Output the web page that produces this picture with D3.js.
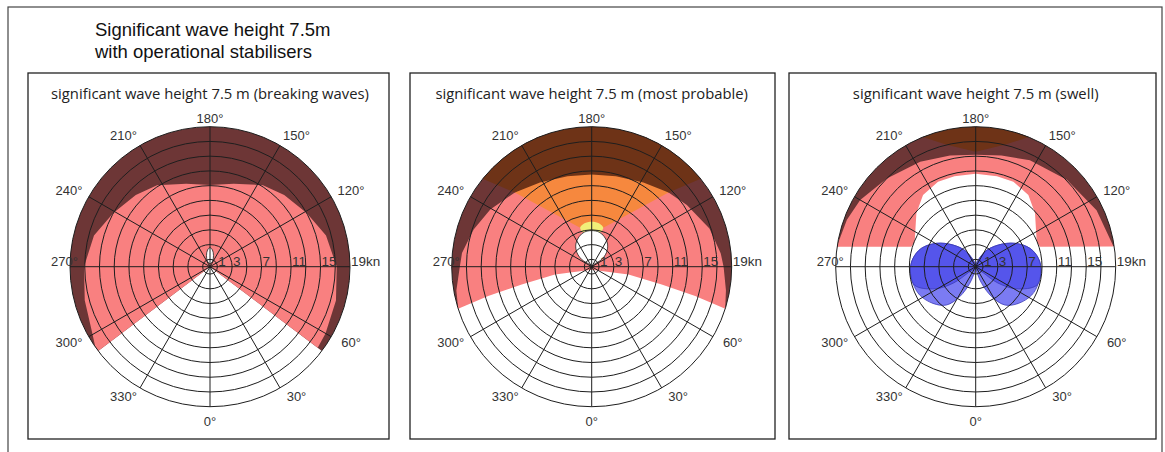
<!DOCTYPE html>
<html><head><meta charset="utf-8">
<script src="https://cdn.jsdelivr.net/npm/d3@7"></script>
<style>body{margin:0;background:#fff;} svg{display:block;}</style>
</head><body>
<svg id="chart" width="1165" height="452"></svg>
<script>
// ---------------- DATA ----------------
const heading = ["Significant wave height 7.5m", "with operational stabilisers"];
const panelTitles = [
  "significant wave height 7.5 m (breaking waves)",
  "significant wave height 7.5 m (most probable)",
  "significant wave height 7.5 m (swell)"
];
const speedRings = [1, 3, 5, 7, 9, 11, 13, 15, 17, 19];          // kn
const speedLabels = [[1, "1"], [3, "3"], [7, "7"], [11, "11"], [15, "15"], [19, "19kn"]];
const headings = [0, 30, 60, 90, 120, 150, 180, 210, 240, 270, 300, 330]; // degrees
const headingLabels = [0, 30, 60, 120, 150, 180, 210, 240, 270, 300, 330];
const maxSpeed = 19;

// Regions: [heading deg, speed kn]
// Panel 1 (breaking waves)
const p1Maroon = [[307,0],[307,22],[270,22],[225,22],[180,22],[135,22],[90,22],[53,22],[53,0]];
const p1Pink = [[307,0],[307,19.3],[300,18.4],[285,17.6],[270,17.1],[255,16.3],[241,15.0],[226,14.0],
  [213,13.2],[196,11.7],[180,11.1],[164,11.7],[147,13.2],[134,14.0],[119,15.0],[105,16.3],[90,17.2],
  [75,17.7],[60,18.1],[53,18.3],[53,0]];
const p1Lobe = [[180,2.58],[171.6,2.29],[162.4,1.57],[155.2,0.8],[180,0.41],[204.8,0.8],[197.6,1.57],[188.4,2.29]];

// Panel 2 (most probable)
const p2Maroon = [[287.5,19.0],[280,17.8],[265,16.8],[250,15.6],[235,14.6],[210,14],[180,14],[150,14],
  [125,14.6],[110,15.6],[95,16.8],[80,17.8],[72.5,19.0],[72.5,21],[90,22],[135,22],[180,22],[225,22],[270,22],[287.5,21]];
const p2Pink = [[287.5,19.0],[280,18.65],[270,17.9],[264,17.7],[252.5,16.8],[240.6,15.8],[226,14.5],[180,12.5],
  [134,14.5],[123,15.4],[108,16.8],[96,17.6],[90,17.9],[80,18.5],[72.5,19.0],
  [74.2,14.6],[75.8,9.8],[78.2,5.1],[0,0.4],[281.8,5.1],[284.2,9.8],[285.8,14.6]];
const p2Orange = [[196.6,5.5],[226,14.5],[205,14.5],[180,14],[155,14.5],[134,14.5],[163.4,5.5],[170,5.95],[180,6.1],[190,5.95]];
const p2Choc = [[231.5,19.5],[226,14.5],[211.6,13.4],[195,12.7],[180,12.5],[165,12.7],[148.4,13.4],[134,14.5],
  [128.5,19.5],[135,22],[157.5,22],[180,22],[202.5,22],[225,22]];
const p2Yellow = [[196.6,5.5],[190,5.95],[180,6.1],[170,5.95],[163.4,5.5],[168,4.6],[180,4.5],[192,4.6]];
const p2Lobe = [[180,4.9],[168,4.8],[158,4.45],[145,3.75],[134,2.8],[126,1.7],[135,0.45],[180,0.05],
  [225,0.45],[234,1.7],[226,2.8],[215,3.75],[202,4.45],[192,4.8]];

// Panel 3 (swell)
const p3Maroon = [[261.8,19.06],[258,17],[250,17.6],[240,17.4],[225,16.4],[208,15.5],[180,14.6],[153,15.6],
  [134,16.5],[115,17.5],[100,18.0],[98.3,19.06],[98.3,21],[135,22],[180,22],[225,22],[261.8,21]];
const p3Pink = [[261.8,19.06],[250,18.6],[240,18.1],[225.2,17.0],[207.9,16.1],[193,15.5],[180,15.2],[167,15.5],
  [153,16.2],[133.7,17.1],[115,18.1],[98.3,18.9],[107.2,9.14],[112.3,8.95],[132,10.83],[143.7,12.07],
  [156.1,12.62],[166.8,12.6],[180,12.6],[193.2,12.6],[203.9,12.62],[216.3,12.07],[228,10.83],[247.7,8.95],[252.8,9.14]];
const p3Choc = [[203.2,19.3],[193.4,17],[187,16.2],[180,15.6],[173,16.2],[166.6,17],[156.8,19.3],[160,22],[180,22],[200,22]];
const p3BlueR = [[90,0],[148.1,2.4],[133.7,4.26],[120.7,6.21],[108.6,7.79],[97.6,8.58],[87.1,8.88],[75.1,8.8],
  [63.1,8.52],[49.3,7.64],[37.4,6.55],[28.1,4.61],[19.7,2.4],[11.6,0.69]];
const p3BlueL = [[270,0],[348.4,0.69],[340.3,2.4],[331.9,4.61],[322.6,6.55],[310.7,7.64],[296.9,8.52],[284.9,8.8],
  [272.9,8.88],[262.4,8.58],[251.4,7.79],[239.3,6.21],[226.3,4.26],[211.9,2.4]];
const p3BlueRDark = [[90,0],[148.1,2.4],[133.7,4.26],[120.7,6.21],[108.6,7.79],[97.6,8.58],[87.1,8.88],
  [73.2,8.67],[61.4,6.26],[53.7,3.72],[51.3,1.28]];
const p3BlueLDark = [[270,0],[308.7,1.28],[306.3,3.72],[298.6,6.26],[286.8,8.67],[272.9,8.88],[262.4,8.58],
  [251.4,7.79],[239.3,6.21],[226.3,4.26],[211.9,2.4]];

// ---------------- STYLE / LAYOUT ----------------
const C = {maroon:"#6d3636", choc:"#6e3317", pink:"#f98080", orange:"#f6883e", yellow:"#f1ef78",
           blueL:"#7b7bf3", blueD:"#4f4fe9", grid:"#1e1e1e", text:"#333"};
const R = 140, CY = 266.7;
const panels = [
  {cx:210,   x0:28,  x1:389,  title:panelTitles[0], layers:[
     {d:p1Maroon, fill:C.maroon}, {d:p1Pink, fill:C.pink},
     {d:p1Lobe, fill:"#fff", stroke:C.grid, smooth:true}]},
  {cx:591.7, x0:410, x1:775,  title:panelTitles[1], layers:[
     {d:p2Maroon, fill:C.maroon}, {d:p2Pink, fill:C.pink}, {d:p2Orange, fill:C.orange},
     {d:p2Choc, fill:C.choc}, {d:p2Yellow, fill:C.yellow, smooth:true},
     {d:p2Lobe, fill:"#fff", stroke:C.grid, smooth:true}]},
  {cx:975.7, x0:789, x1:1156, title:panelTitles[2], layers:[
     {d:p3Maroon, fill:C.maroon}, {d:p3Pink, fill:C.pink}, {d:p3Choc, fill:C.choc},
     {d:p3BlueR, fill:C.blueL, stroke:"#3b3bb8", smooth:true}, {d:p3BlueL, fill:C.blueL, stroke:"#3b3bb8", smooth:true},
     {d:p3BlueRDark, fill:C.blueD, stroke:"#3b3bb8", smooth:true, op:0.85}, {d:p3BlueLDark, fill:C.blueD, stroke:"#3b3bb8", smooth:true, op:0.85}]}
];

// ---------------- DRAW ----------------
const svg = d3.select("#chart");
const rS = d3.scaleLinear().domain([0, maxSpeed]).range([0, R]);
const toA = deg => (180 - deg) * Math.PI / 180;
const lineLin = d3.lineRadial().angle(d => toA(d[0])).radius(d => rS(d[1])).curve(d3.curveLinearClosed);
const lineSm = d3.lineRadial().angle(d => toA(d[0])).radius(d => rS(d[1])).curve(d3.curveCatmullRomClosed.alpha(0.5));
const FONT = "Liberation Sans, Arial, sans-serif";

// outer frame
svg.append("rect").attr("x", 8).attr("y", 7).attr("width", 1154).attr("height", 470)
  .attr("fill", "none").attr("stroke", "#444").attr("stroke-width", 1.2);

// heading
svg.append("g").selectAll("text").data(heading).join("text")
  .attr("x", 95).attr("y", (d, i) => 36 + i * 21.5)
  .attr("font-family", FONT).attr("font-size", 18.5).attr("fill", "#111")
  .text(d => d);

panels.forEach((p, pi) => {
  svg.append("rect").attr("x", p.x0).attr("y", 73).attr("width", p.x1 - p.x0).attr("height", 366)
    .attr("fill", "#fff").attr("stroke", "#222").attr("stroke-width", 1.3);
  svg.append("text").attr("x", p.cx).attr("y", 98.5).attr("text-anchor", "middle")
    .attr("font-family", "Open Sans, sans-serif").attr("font-size", 14.8).attr("fill", "#222").text(p.title);

  const g = svg.append("g").attr("transform", `translate(${p.cx},${CY})`);
  const clipId = "clip" + pi;
  g.append("clipPath").attr("id", clipId).append("circle").attr("r", rS(maxSpeed));
  g.append("circle").attr("r", rS(maxSpeed)).attr("fill", "#fff");
  const fills = g.append("g").attr("clip-path", `url(#${clipId})`);
  p.layers.forEach(L => {
    fills.append("path").attr("d", (L.smooth ? lineSm : lineLin)(L.d))
      .attr("fill", L.fill).attr("fill-opacity", L.op || 1)
      .attr("stroke", L.stroke || "none").attr("stroke-width", L.stroke ? 0.8 : 0);
  });
  // grid
  g.append("g").selectAll("circle").data(speedRings).join("circle")
    .attr("r", d => rS(d)).attr("fill", "none").attr("stroke", C.grid).attr("stroke-width", 1);
  g.append("g").selectAll("line").data(headings).join("line")
    .attr("x1", 0).attr("y1", 0)
    .attr("x2", d => d3.pointRadial(toA(d), rS(maxSpeed))[0])
    .attr("y2", d => d3.pointRadial(toA(d), rS(maxSpeed))[1])
    .attr("stroke", C.grid).attr("stroke-width", 1);
  // speed labels
  g.append("g").selectAll("text").data(speedLabels).join("text")
    .attr("x", d => rS(d[0]) + 1).attr("y", -1)
    .attr("font-family", FONT).attr("font-size", 13.5).attr("fill", C.text)
    .text(d => d[1]);
  // heading labels
  g.append("g").selectAll("text").data(headingLabels).join("text")
    .each(function(d) {
      const t = d3.select(this)
        .attr("font-family", FONT).attr("font-size", 13).attr("fill", C.text)
        .text(d + "°");
      if (d === 270) {
        t.attr("x", -rS(maxSpeed) + 8).attr("y", -1).attr("text-anchor", "end");
      } else if (d === 180 || d === 0) {
        const [x, y] = d3.pointRadial(toA(d), rS(maxSpeed) + (d === 180 ? 8.5 : 15));
        t.attr("x", x).attr("y", y).attr("text-anchor", "middle").attr("dominant-baseline", "central");
      } else {
        const [x, y] = d3.pointRadial(toA(d), rS(maxSpeed) + 9);
        const sx = x < 0 ? -12 : 12, sy = y < 0 ? -2 : 1;
        t.attr("x", x + sx).attr("y", y + sy).attr("text-anchor", "middle").attr("dominant-baseline", "central");
      }
    });
});
</script>
</body></html>
